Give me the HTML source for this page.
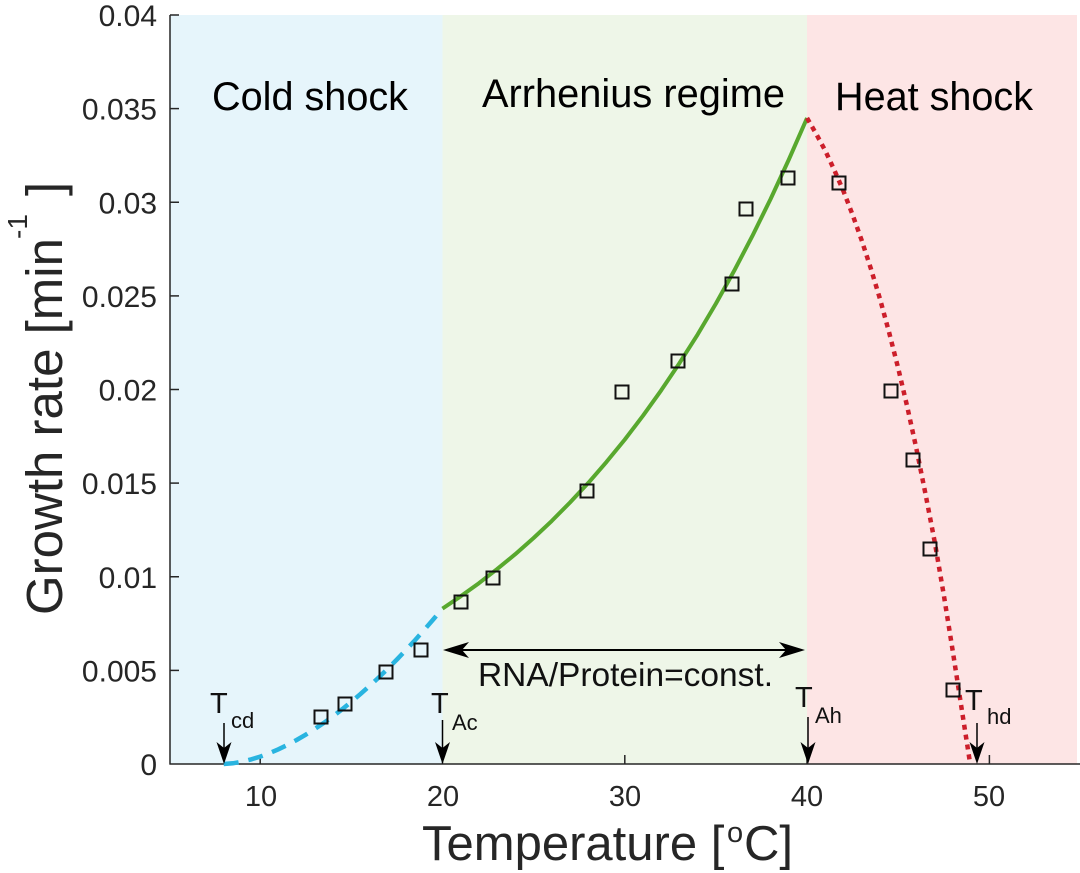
<!DOCTYPE html>
<html>
<head>
<meta charset="utf-8">
<style>
  html,body{margin:0;padding:0;background:#fff;}
  svg{display:block;}
  text{font-family:"Liberation Sans", Arial, sans-serif;}
</style>
</head>
<body>
<svg width="1080" height="873" viewBox="0 0 1080 873" xmlns="http://www.w3.org/2000/svg">
  <rect x="0" y="0" width="1080" height="873" fill="#ffffff"/>
  <!-- regime backgrounds -->
  <rect x="170" y="15" width="272.5" height="749" fill="#e6f5fb"/>
  <rect x="442.5" y="15" width="364.5" height="749" fill="#eef6e8"/>
  <rect x="807" y="15" width="270" height="749" fill="#fde5e5"/>

  <!-- axes -->
  <g stroke="#262626" stroke-width="1.5" fill="none">
    <line x1="170" y1="15" x2="170" y2="764.5"/>
    <line x1="169.5" y1="764" x2="1080" y2="764"/>
    <line x1="170" y1="15" x2="179" y2="15"/>
    <line x1="170" y1="108.6" x2="179" y2="108.6"/>
    <line x1="170" y1="202.25" x2="179" y2="202.25"/>
    <line x1="170" y1="295.9" x2="179" y2="295.9"/>
    <line x1="170" y1="389.5" x2="179" y2="389.5"/>
    <line x1="170" y1="483.1" x2="179" y2="483.1"/>
    <line x1="170" y1="576.75" x2="179" y2="576.75"/>
    <line x1="170" y1="670.4" x2="179" y2="670.4"/>
    <line x1="260.2" y1="764" x2="260.2" y2="755"/>
    <line x1="442.5" y1="764" x2="442.5" y2="755"/>
    <line x1="624.8" y1="764" x2="624.8" y2="755"/>
    <line x1="807" y1="764" x2="807" y2="755"/>
    <line x1="989.4" y1="764" x2="989.4" y2="755"/>
  </g>

  <!-- y tick labels -->
  <g font-size="30" fill="#262626" text-anchor="end">
    <text x="157" y="26">0.04</text>
    <text x="157" y="119.6">0.035</text>
    <text x="157" y="213.25">0.03</text>
    <text x="157" y="306.9">0.025</text>
    <text x="157" y="400.5">0.02</text>
    <text x="157" y="494.1">0.015</text>
    <text x="157" y="587.75">0.01</text>
    <text x="157" y="681.4">0.005</text>
    <text x="157" y="775">0</text>
  </g>
  <!-- x tick labels -->
  <g font-size="29" fill="#262626" text-anchor="middle">
    <text x="261" y="806">10</text>
    <text x="443" y="806">20</text>
    <text x="625" y="806">30</text>
    <text x="807" y="806">40</text>
    <text x="989" y="806">50</text>
  </g>

  <!-- axis labels -->
  <g fill="#262626">
    <text x="422" y="860" font-size="49">Temperature [</text>
    <text x="727" y="842" font-size="29">o</text>
    <text x="744" y="860" font-size="49">C]</text>
  </g>
  <g fill="#262626" transform="translate(62,615) rotate(-90)">
    <text x="0" y="0" font-size="51">Growth rate [min</text>
    <text x="376" y="-35" font-size="28">-1</text>
    <text x="419" y="0" font-size="51">]</text>
  </g>

  <!-- regime titles -->
  <g font-size="40" fill="#000">
    <text x="212" y="110" textLength="196" lengthAdjust="spacingAndGlyphs">Cold shock</text>
    <text x="482" y="107" textLength="303" lengthAdjust="spacingAndGlyphs">Arrhenius regime</text>
    <text x="835" y="110" textLength="198" lengthAdjust="spacingAndGlyphs">Heat shock</text>
  </g>

  <!-- curves -->
  <polyline fill="none" stroke="#29b4e0" stroke-width="4.5" stroke-dasharray="15 10"
    points="223.7,764 232.8,763.3 241.9,761.7 251,759.4 260.2,756.6 269.3,753.2 278.4,749.3 287.5,744.9 296.6,740 305.7,734.7 314.8,728.9 324,722.8 333.1,716.2 342.2,709.2 351.3,701.8 360.4,694.1 369.5,686 378.7,677.5 387.8,668.7 396.9,659.5 406,650 415.1,640.1 424.2,629.9 433.3,619.4 442.45,608.6"/>
  <polyline fill="none" stroke="#58a82e" stroke-width="4" stroke-linejoin="round"
    points="442.45,608.6 460.7,596.3 478.9,583.2 497.1,569.1 515.4,554.1 533.6,538 551.8,520.9 570,502.5 588.3,482.9 606.5,461.9 624.75,439.6 643,415.7 661.2,390.3 679.4,363.2 697.7,334.4 715.9,303.6 734.1,270.9 752.3,236.1 770.6,199 788.8,159.6 807.05,118"/>
  <polyline fill="none" stroke="#cc1e2a" stroke-width="4.5" stroke-dasharray="5 5"
    points="807.05,118 816.2,133.9 825.3,150.7 834.4,170.3 843.5,191.2 852.6,214.8 861.7,240.4 870.8,268.4 880,299 889.1,332.4 898.2,368.2 907.3,407 916.4,448.7 925.5,494 934.7,541.8 943.8,595 952.9,652 962,711 970.2,764"/>

  <!-- data markers -->
  <g fill="none" stroke="#111" stroke-width="2">
    <rect x="314.5" y="710.5" width="13" height="13"/>
    <rect x="338.5" y="697.5" width="13" height="13"/>
    <rect x="379.5" y="665.5" width="13" height="13"/>
    <rect x="414.5" y="643.5" width="13" height="13"/>
    <rect x="454.5" y="595.5" width="13" height="13"/>
    <rect x="486.5" y="571.5" width="13" height="13"/>
    <rect x="580.5" y="484.5" width="13" height="13"/>
    <rect x="615.5" y="385.5" width="13" height="13"/>
    <rect x="671.5" y="354.5" width="13" height="13"/>
    <rect x="725.5" y="277.5" width="13" height="13"/>
    <rect x="739.5" y="202.5" width="13" height="13"/>
    <rect x="781.5" y="171.5" width="13" height="13"/>
    <rect x="832.5" y="176.5" width="13" height="13"/>
    <rect x="884.5" y="384.5" width="13" height="13"/>
    <rect x="906.5" y="453.5" width="13" height="13"/>
    <rect x="923.5" y="542.5" width="13" height="13"/>
    <rect x="946.5" y="683.5" width="13" height="13"/>
  </g>

  <!-- double arrow -->
  <line x1="452" y1="650" x2="796" y2="650" stroke="#000" stroke-width="2"/>
  <polygon points="443,650 469,642 462,650 469,658" fill="#000"/>
  <polygon points="805,650 779,642 786,650 779,658" fill="#000"/>
  <text x="478" y="686" font-size="33" fill="#111" textLength="295" lengthAdjust="spacingAndGlyphs">RNA/Protein=const.</text>

  <!-- T markers -->
  <g stroke="#000" stroke-width="1.5">
    <line x1="224" y1="723" x2="224" y2="750"/>
    <line x1="442.5" y1="720" x2="442.5" y2="750"/>
    <line x1="808" y1="717" x2="808" y2="750"/>
    <line x1="977" y1="723" x2="977" y2="750"/>
  </g>
  <g fill="#000">
    <polygon points="224,764 216.5,742 224,748 231.5,742"/>
    <polygon points="442.5,764 435,742 442.5,748 450,742"/>
    <polygon points="808,764 800.5,742 808,748 815.5,742"/>
    <polygon points="977,764 969.5,742 977,748 984.5,742"/>
  </g>
  <g fill="#111">
    <text x="210" y="713" font-size="29">T</text>
    <text x="231" y="728" font-size="22">cd</text>
    <text x="431" y="713" font-size="29">T</text>
    <text x="452" y="730" font-size="22">Ac</text>
    <text x="795" y="707" font-size="29">T</text>
    <text x="815" y="723" font-size="22">Ah</text>
    <text x="965" y="710" font-size="29">T</text>
    <text x="987" y="724" font-size="22">hd</text>
  </g>
</svg>
</body>
</html>
